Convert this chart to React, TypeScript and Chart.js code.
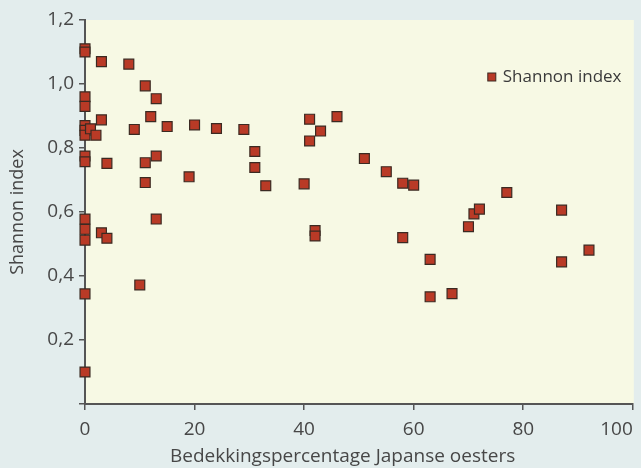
import React, { useEffect, useRef } from 'react';
import { Chart, registerables } from 'chart.js';

Chart.register(...registerables);

// Bedekkingspercentage Japanse oesters (x) and Shannon index (y)
const coverage = [
  0, 0, 0, 0, 0, 0, 0, 0, 0, 0, 0, 0, 0, 0,
  1, 2, 3, 3, 3, 4, 4, 8, 9, 10, 11, 11, 11, 12, 13, 13, 13, 15, 19, 20, 24, 29,
  31, 31, 33, 40, 41, 41, 42, 42, 43, 46, 51, 55, 58, 58, 60, 63, 63, 67, 70, 71,
  72, 77, 87, 87, 92,
];
const shannon = [
  1.11, 1.1, 0.96, 0.93, 0.87, 0.855, 0.84, 0.775, 0.757, 0.578, 0.546, 0.512, 0.344, 0.1,
  0.86, 0.84, 1.07, 0.888, 0.535, 0.752, 0.518, 1.062, 0.858, 0.372, 0.994, 0.754, 0.692,
  0.898, 0.954, 0.775, 0.578, 0.867, 0.71, 0.872, 0.861, 0.858, 0.789, 0.739, 0.682, 0.688,
  0.89, 0.822, 0.542, 0.525, 0.853, 0.898, 0.767, 0.726, 0.69, 0.52, 0.684, 0.452, 0.335,
  0.345, 0.554, 0.594, 0.609, 0.661, 0.606, 0.444, 0.481,
];
const seriesLabel = 'Shannon index';
const xTitle = 'Bedekkingspercentage Japanse oesters';
const yTitle = 'Shannon index';

const OUTER_BG = '#e3eded';
const PLOT_BG = '#f7f9e4';
const MARKER_FILL = '#b93a26';
const MARKER_BORDER = '#3b2a22';
const AXIS = '#555555';
const TEXT = '#474747';
const FONT = "'Open Sans', sans-serif";

const backgroundPlugin = {
  id: 'bg',
  beforeDraw(chart: any) {
    const { ctx, chartArea, width, height } = chart;
    ctx.save();
    ctx.fillStyle = OUTER_BG;
    ctx.fillRect(0, 0, width, height);
    ctx.fillStyle = PLOT_BG;
    ctx.fillRect(chartArea.left, chartArea.top, chartArea.right - chartArea.left + 1, chartArea.bottom - chartArea.top);
    ctx.restore();
  },
};

const insideLegendPlugin = {
  id: 'insideLegend',
  afterDatasetsDraw(chart: any) {
    const { ctx, chartArea } = chart;
    const ds = chart.data.datasets[0];
    const mx = chartArea.right - 141;
    const my = chartArea.top + 57;
    const s = 8;
    ctx.save();
    ctx.fillStyle = ds.backgroundColor;
    ctx.strokeStyle = ds.borderColor;
    ctx.lineWidth = 1;
    ctx.fillRect(mx - s / 2, my - s / 2, s, s);
    ctx.strokeRect(mx - s / 2, my - s / 2, s, s);
    ctx.fillStyle = '#3a3a3a';
    ctx.font = `17px ${FONT}`;
    ctx.textAlign = 'left';
    ctx.textBaseline = 'middle';
    ctx.fillText(ds.label, mx + 11, my);
    ctx.restore();
  },
};

export default function App() {
  const ref = useRef<HTMLCanvasElement | null>(null);

  useEffect(() => {
    document.body.style.margin = '0';
    const canvas = ref.current;
    if (!canvas) return;
    const points = coverage.map((x, i) => ({ x, y: shannon[i] }));
    const chart = new Chart(canvas, {
      type: 'scatter',
      data: {
        datasets: [
          {
            label: seriesLabel,
            data: points,
            pointStyle: 'rect',
            pointRadius: 7,
            pointHoverRadius: 7,
            backgroundColor: MARKER_FILL,
            borderColor: MARKER_BORDER,
            borderWidth: 1.2,
            clip: false as any,
          },
        ],
      },
      options: {
        responsive: false,
        animation: false,
        layout: { padding: { left: 0, top: 20, right: 5, bottom: 0 } },
        plugins: {
          legend: { display: false },
          tooltip: { enabled: false },
        },
        scales: {
          x: {
            type: 'linear',
            min: 0,
            max: 100,
            afterFit(scale: any) {
              scale.height = 64;
              scale.paddingRight = 0;
              scale.paddingLeft = 0;
            },
            ticks: {
              stepSize: 20,
              padding: 8,
              color: TEXT,
              font: { family: FONT, size: 19 },
              // last label sits left of its tick, as in the original figure
              callback: (v: any) => (Number(v) === 100 ? '100\u2007\u2007\u2007' : String(v)),
            },
            grid: {
              display: true,
              drawOnChartArea: false,
              drawTicks: true,
              tickLength: 6,
              color: AXIS,
              lineWidth: 1.5,
            },
            border: { display: true, color: AXIS, width: 2 },
            title: {
              display: true,
              // title sits slightly left of the plot centre in the original
              text: xTitle + '\u2007\u2007\u2007',
              color: TEXT,
              font: { family: FONT, size: 19 },
              padding: { top: 0, bottom: 0 },
            },
          },
          y: {
            type: 'linear',
            min: 0,
            max: 1.2,
            afterFit(scale: any) {
              scale.width = 85;
            },
            ticks: {
              stepSize: 0.2,
              padding: 5,
              color: TEXT,
              font: { family: FONT, size: 19 },
              callback: (v: any) => (Number(v) === 0 ? '' : Number(v).toFixed(1).replace('.', ',')),
            },
            grid: {
              display: true,
              drawOnChartArea: false,
              drawTicks: true,
              tickLength: 6,
              color: AXIS,
              lineWidth: 1.5,
            },
            border: { display: true, color: AXIS, width: 2 },
            title: {
              display: true,
              text: yTitle,
              color: TEXT,
              font: { family: FONT, size: 18 },
              padding: { top: 7, bottom: 0 },
            },
          },
        },
      },
      plugins: [backgroundPlugin, insideLegendPlugin],
    });
    return () => chart.destroy();
  }, []);

  return (
    <div style={{ position: 'fixed', left: 0, top: 0, width: 641, height: 468, background: OUTER_BG }}>
      <canvas ref={ref} width={641} height={468} style={{ display: 'block' }} />
    </div>
  );
}
